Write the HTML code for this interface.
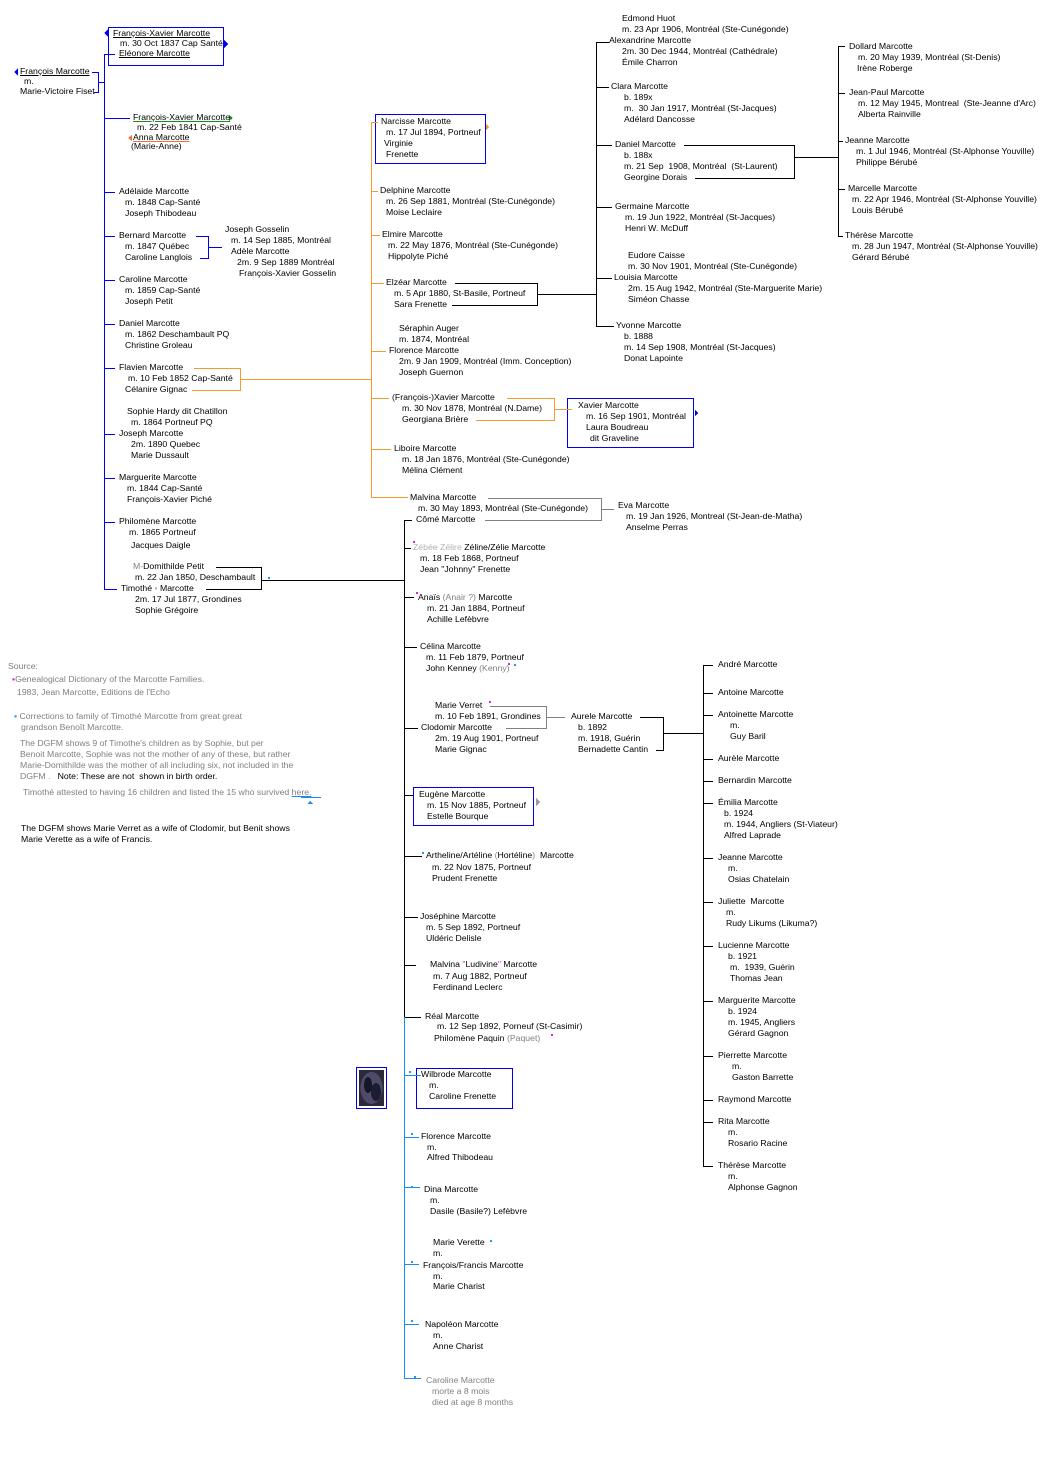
<!DOCTYPE html>
<html><head><meta charset="utf-8">
<style>
html,body{margin:0;padding:0;background:#fff}
#c{position:relative;width:1050px;height:1481px;overflow:hidden;font-family:"Liberation Sans",sans-serif;font-size:8.7px;line-height:11px;color:#000}
#c i{position:absolute;font-style:normal;white-space:nowrap}
.g{color:#808080}.lg{color:#b0b0b0}
.u{text-decoration:underline}
svg{position:absolute;left:0;top:0}
.p{color:#e020e0}.b{color:#1a9af0}
</style></head><body><div id="c">
<svg width="1050" height="1481" shape-rendering="crispEdges">
<g stroke="#0000ee" fill="none" stroke-width="1">
<rect x="108.5" y="27.5" width="115" height="38"/>
<rect x="375.5" y="114.5" width="110" height="49"/>
<rect x="567.5" y="398.5" width="126" height="49"/>
<rect x="413.5" y="787.5" width="120" height="38"/>
<rect x="416.5" y="1068.5" width="96" height="40"/>
<rect x="356.5" y="1067.5" width="30" height="41"/>
<path d="M104.5 54V590M104 54.5H115M104 118.5H130M104 192.5H115M104 236.5H115M104 280.5H115M104 324.5H115M104 368.5H115M104 434.5H115M104 478.5H115M104 522.5H115M104 589.5H117"/>
<path d="M92 72.5H98.5V92.5H94M98 82.5H104"/>
<path d="M196 236.5H208.5V258.5H200M208 247.5H222"/>
</g>
<g stroke="#f59a30" fill="none">
<path d="M371.5 122V498M371 122.5H378M371 191.5H378M371 235.5H380M371 283.5H384M371 351.5H386M371 398.5H389M371 449.5H391M371 497.5H408"/>
<path d="M194 368.5H240.5V390.5H192M240 379.5H371"/>
<path d="M507 398.5H554.5V420.5H476M554 409.5H572"/>
</g>
<g stroke="#000" fill="none">
<path d="M455 283.5H537.5V305.5H452M537 294.5H596"/>
<path d="M596.5 42V327M596 42.5H609M596 87.5H609M596 145.5H612M596 207.5H612M596 278.5H612M596 326.5H614"/>
<path d="M684 145.5H794.5V178.5H695M794 157.5H838"/>
<path d="M838.5 46V237M838 46.5H845M838 93.5H845M838 141.5H843M838 189.5H845M838 236.5H843"/>
<path d="M216 567.5H261.5V589.5H206M261 580.5H404"/>
<path d="M404.5 520V1018M404 520.5H412M404 548.5H411M404 597.5H414M404 647.5H417M404 728.5H418M404 795.5H413M404 856.5H422M404 917.5H418M404 965.5H416M404 1017.5H421"/>
<path d="M640 717.5H663.5V750.5H656M663 733.5H703"/>
<path d="M703.5 665V1167M703 665.5H713M703 693.5H713M703 715.5H713M703 759.5H713M703 781.5H713M703 803.5H713M703 858.5H713M703 902.5H713M703 946.5H713M703 1001.5H713M703 1056.5H713M703 1100.5H713M703 1122.5H713M703 1166.5H713"/>
</g>
<g stroke="#808080" fill="none">
<path d="M488 498.5H601.5V520.5H485M601 509.5H614"/>
<path d="M490 706.5H546.5V728.5H506M546 717.5H565"/>
</g>
<g stroke="#1a8cf0" fill="none">
<path d="M404.5 1017V1379M404 1075.5H421M404 1137.5H419M404 1187.5H420M404 1264.5H419M404 1324.5H419M404 1378.5H421"/>
<path d="M301 797.5H321"/>
</g>
<g stroke="none">
<path d="M108 29L104 33L108 37Z" fill="#0000ee"/>
<path d="M224 40L228 44L224 48Z" fill="#0000ee"/>
<path d="M18 68L14 72L18 76Z" fill="#0000ee"/>
<path d="M229 115L233 118L229 121Z" fill="#1a8a1a"/>
<path d="M132 135L128 138L132 141Z" fill="#f07040"/>
<path d="M486 124L489 127L486 130Z" fill="#f59a30"/>
<path d="M695 410L698 413L695 416Z" fill="#0000ee"/>
<path d="M536 798L540 802L536 806Z" fill="#999"/>
<path d="M307 804L310 801L313 804Z" fill="#1a8cf0"/>
<rect x="359" y="1070" width="25" height="36" fill="#2a2a3a"/>
<ellipse cx="371.5" cy="1088" rx="11" ry="16" fill="#504a6a"/>
<ellipse cx="368" cy="1085" rx="4" ry="8" fill="#141826"/>
<ellipse cx="376" cy="1092" rx="5" ry="9" fill="#1a1e30"/>
<g fill="#1a9af0"><rect x="409" y="1071" width="2" height="2"/><rect x="411" y="1133" width="2" height="2"/><rect x="411" y="1186" width="2" height="2"/><rect x="490" y="1240" width="2" height="2"/><rect x="411" y="1261" width="2" height="2"/><rect x="411" y="1320" width="2" height="2"/><rect x="414" y="1376" width="2" height="2"/><rect x="268" y="577" width="2" height="2"/><rect x="422" y="852" width="2" height="2"/><rect x="514" y="664" width="2" height="2"/></g>
<g fill="#e020e0"><rect x="413" y="541" width="2" height="2"/><rect x="416" y="592" width="2" height="2"/><rect x="489" y="701" width="2" height="2"/><rect x="551" y="1034" width="2" height="2"/><rect x="508" y="663" width="2" height="2"/></g>
</g>
</svg>

<i class="u" style="left:113px;top:28px">François-Xavier Marcotte</i>
<i style="left:120px;top:38px">m. 30 Oct 1837 Cap Santé</i>
<i class="u" style="left:119px;top:48px">Eléonore Marcotte</i>
<i class="u" style="left:20px;top:66px">François Marcotte</i>
<i style="left:24px;top:76px">m.</i>
<i style="left:20px;top:86px">Marie-Victoire Fiset</i>
<i style="left:133px;top:112px;text-decoration:underline;text-decoration-color:#1a8a1a">François-Xavier Marcotte</i>
<i style="left:137px;top:122px">m. 22 Feb 1841 Cap-Santé</i>
<i style="left:133px;top:132px;text-decoration:underline;text-decoration-color:#f07040">Anna Marcotte</i>
<i style="left:131px;top:141px">(Marie-Anne)</i>
<i style="left:119px;top:186px">Adélaide Marcotte</i>
<i style="left:125px;top:197px">m. 1848 Cap-Santé</i>
<i style="left:125px;top:208px">Joseph Thibodeau</i>
<i style="left:119px;top:230px">Bernard Marcotte</i>
<i style="left:125px;top:241px">m. 1847 Québec</i>
<i style="left:125px;top:252px">Caroline Langlois</i>
<i style="left:225px;top:224px">Joseph Gosselin</i>
<i style="left:231px;top:235px">m. 14 Sep 1885, Montréal</i>
<i style="left:231px;top:246px">Adèle Marcotte</i>
<i style="left:237px;top:257px">2m. 9 Sep 1889 Montréal</i>
<i style="left:239px;top:268px">François-Xavier Gosselin</i>
<i style="left:119px;top:274px">Caroline Marcotte</i>
<i style="left:125px;top:285px">m. 1859 Cap-Santé</i>
<i style="left:125px;top:296px">Joseph Petit</i>
<i style="left:119px;top:318px">Daniel Marcotte</i>
<i style="left:125px;top:329px">m. 1862 Deschambault PQ</i>
<i style="left:125px;top:340px">Christine Groleau</i>
<i style="left:119px;top:362px">Flavien Marcotte</i>
<i style="left:128px;top:373px">m. 10 Feb 1852 Cap-Santé</i>
<i style="left:125px;top:384px">Célanire Gignac</i>
<i style="left:127px;top:406px">Sophie Hardy dit Chatillon</i>
<i style="left:131px;top:417px">m. 1864 Portneuf PQ</i>
<i style="left:119px;top:428px">Joseph Marcotte</i>
<i style="left:131px;top:439px">2m. 1890 Quebec</i>
<i style="left:131px;top:450px">Marie Dussault</i>
<i style="left:119px;top:472px">Marguerite Marcotte</i>
<i style="left:127px;top:483px">m. 1844 Cap-Santé</i>
<i style="left:127px;top:494px">François-Xavier Piché</i>
<i style="left:119px;top:516px">Philomène Marcotte</i>
<i style="left:129px;top:527px">m. 1865 Portneuf</i>
<i style="left:131px;top:540px">Jacques Daigle</i>
<i style="left:133px;top:561px"><span class="g">M-</span>Domithilde Petit</i>
<i style="left:135px;top:572px">m. 22 Jan 1850, Deschambault</i>
<i style="left:121px;top:583px">Timothé <span class="lg">▪</span> Marcotte</i>
<i style="left:135px;top:594px">2m. 17 Jul 1877, Grondines</i>
<i style="left:135px;top:605px">Sophie Grégoire</i>

<i style="left:381px;top:116px">Narcisse Marcotte</i>
<i style="left:386px;top:127px">m. 17 Jul 1894, Portneuf</i>
<i style="left:384px;top:138px">Virginie</i>
<i style="left:386px;top:149px">Frenette</i>
<i style="left:380px;top:185px">Delphine Marcotte</i>
<i style="left:386px;top:196px">m. 26 Sep 1881, Montréal (Ste-Cunégonde)</i>
<i style="left:386px;top:207px">Moise Leclaire</i>
<i style="left:382px;top:229px">Elmire Marcotte</i>
<i style="left:388px;top:240px">m. 22 May 1876, Montréal (Ste-Cunégonde)</i>
<i style="left:388px;top:251px">Hippolyte Piché</i>
<i style="left:386px;top:277px">Elzéar Marcotte</i>
<i style="left:394px;top:288px">m. 5 Apr 1880, St-Basile, Portneuf</i>
<i style="left:394px;top:299px">Sara Frenette</i>
<i style="left:399px;top:323px">Séraphin Auger</i>
<i style="left:399px;top:334px">m. 1874, Montréal</i>
<i style="left:389px;top:345px">Florence Marcotte</i>
<i style="left:399px;top:356px">2m. 9 Jan 1909, Montréal (Imm. Conception)</i>
<i style="left:399px;top:367px">Joseph Guernon</i>
<i style="left:392px;top:392px">(François-)Xavier Marcotte</i>
<i style="left:402px;top:403px">m. 30 Nov 1878, Montréal (N.Dame)</i>
<i style="left:402px;top:414px">Georgiana Brière</i>
<i style="left:578px;top:400px">Xavier Marcotte</i>
<i style="left:586px;top:411px">m. 16 Sep 1901, Montréal</i>
<i style="left:586px;top:422px">Laura Boudreau</i>
<i style="left:590px;top:433px">dit Graveline</i>
<i style="left:394px;top:443px">Liboire Marcotte</i>
<i style="left:402px;top:454px">m. 18 Jan 1876, Montréal (Ste-Cunégonde)</i>
<i style="left:402px;top:465px">Mélina Clément</i>
<i style="left:410px;top:492px">Malvina Marcotte</i>
<i style="left:418px;top:503px">m. 30 May 1893, Montréal (Ste-Cunégonde)</i>
<i style="left:416px;top:514px">Cômé Marcotte</i>
<i style="left:618px;top:500px">Eva Marcotte</i>
<i style="left:626px;top:511px">m. 19 Jan 1926, Montreal (St-Jean-de-Matha)</i>
<i style="left:626px;top:522px">Anselme Perras</i>

<i style="left:622px;top:13px">Edmond Huot</i>
<i style="left:622px;top:24px">m. 23 Apr 1906, Montréal (Ste-Cunégonde)</i>
<i style="left:609px;top:35px">Alexandrine Marcotte</i>
<i style="left:622px;top:46px">2m. 30 Dec 1944, Montréal (Cathédrale)</i>
<i style="left:622px;top:57px">Émile Charron</i>
<i style="left:611px;top:81px">Clara Marcotte</i>
<i style="left:624px;top:92px">b. 189x</i>
<i style="left:624px;top:103px">m.&nbsp; 30 Jan 1917, Montréal (St-Jacques)</i>
<i style="left:624px;top:114px">Adélard Dancosse</i>
<i style="left:615px;top:139px">Daniel Marcotte</i>
<i style="left:624px;top:150px">b. 188x</i>
<i style="left:624px;top:161px">m. 21 Sep&nbsp; 1908, Montréal&nbsp; (St-Laurent)</i>
<i style="left:624px;top:172px">Georgine Dorais</i>
<i style="left:615px;top:201px">Germaine Marcotte</i>
<i style="left:625px;top:212px">m. 19 Jun 1922, Montréal (St-Jacques)</i>
<i style="left:625px;top:223px">Henri W. McDuff</i>
<i style="left:628px;top:250px">Eudore Caisse</i>
<i style="left:628px;top:261px">m. 30 Nov 1901, Montréal (Ste-Cunégonde)</i>
<i style="left:614px;top:272px">Louisia Marcotte</i>
<i style="left:628px;top:283px">2m. 15 Aug 1942, Montréal (Ste-Marguerite Marie)</i>
<i style="left:628px;top:294px">Siméon Chasse</i>
<i style="left:616px;top:320px">Yvonne Marcotte</i>
<i style="left:624px;top:331px">b. 1888</i>
<i style="left:624px;top:342px">m. 14 Sep 1908, Montréal (St-Jacques)</i>
<i style="left:624px;top:353px">Donat Lapointe</i>

<i style="left:849px;top:41px">Dollard Marcotte</i>
<i style="left:858px;top:52px">m. 20 May 1939, Montréal (St-Denis)</i>
<i style="left:857px;top:63px">Irène Roberge</i>
<i style="left:849px;top:87px">Jean-Paul Marcotte</i>
<i style="left:858px;top:98px">m. 12 May 1945, Montreal&nbsp; (Ste-Jeanne d'Arc)</i>
<i style="left:858px;top:109px">Alberta Rainville</i>
<i style="left:845px;top:135px">Jeanne Marcotte</i>
<i style="left:856px;top:146px">m. 1 Jul 1946, Montréal (St-Alphonse Youville)</i>
<i style="left:856px;top:157px">Philippe Bérubé</i>
<i style="left:848px;top:183px">Marcelle Marcotte</i>
<i style="left:852px;top:194px">m. 22 Apr 1946, Montréal (St-Alphonse Youville)</i>
<i style="left:852px;top:205px">Louis Bérubé</i>
<i style="left:845px;top:230px">Thérèse Marcotte</i>
<i style="left:852px;top:241px">m. 28 Jun 1947, Montréal (St-Alphonse Youville)</i>
<i style="left:852px;top:252px">Gérard Bérubé</i>

<i style="left:413px;top:542px"><span class="lg">Zébée Zélire</span> Zéline/Zélie Marcotte</i>
<i style="left:420px;top:553px">m. 18 Feb 1868, Portneuf</i>
<i style="left:420px;top:564px">Jean "Johnny" Frenette</i>
<i style="left:418px;top:592px">Anaïs <span class="g">(Anair ?)</span> Marcotte</i>
<i style="left:427px;top:603px">m. 21 Jan 1884, Portneuf</i>
<i style="left:427px;top:614px">Achille Lefèbvre</i>
<i style="left:420px;top:641px">Célina Marcotte</i>
<i style="left:426px;top:652px">m. 11 Feb 1879, Portneuf</i>
<i style="left:426px;top:663px">John Kenney <span class="g">(Kenny)</span></i>
<i style="left:435px;top:700px">Marie Verret</i>
<i style="left:435px;top:711px">m. 10 Feb 1891, Grondines</i>
<i style="left:421px;top:722px">Clodomir Marcotte</i>
<i style="left:435px;top:733px">2m. 19 Aug 1901, Portneuf</i>
<i style="left:435px;top:744px">Marie Gignac</i>
<i style="left:571px;top:711px">Aurele Marcotte</i>
<i style="left:578px;top:722px">b. 1892</i>
<i style="left:578px;top:733px">m. 1918, Guérin</i>
<i style="left:578px;top:744px">Bernadette Cantin</i>
<i style="left:419px;top:789px">Eugène Marcotte</i>
<i style="left:427px;top:800px">m. 15 Nov 1885, Portneuf</i>
<i style="left:427px;top:811px">Estelle Bourque</i>
<i style="left:426px;top:850px">Artheline/Artéline <span class="g">(</span>Hortéline<span class="g">)</span>&nbsp; Marcotte</i>
<i style="left:432px;top:862px">m. 22 Nov 1875, Portneuf</i>
<i style="left:432px;top:873px">Prudent Frenette</i>
<i style="left:420px;top:911px">Joséphine Marcotte</i>
<i style="left:426px;top:922px">m. 5 Sep 1892, Portneuf</i>
<i style="left:426px;top:933px">Uldéric Delisle</i>
<i style="left:430px;top:959px">Malvina <span class="p">"</span>Ludivine<span class="p">"</span> Marcotte</i>
<i style="left:433px;top:971px">m. 7 Aug 1882, Portneuf</i>
<i style="left:433px;top:982px">Ferdinand Leclerc</i>
<i style="left:425px;top:1011px">Réal Marcotte</i>
<i style="left:437px;top:1021px">m. 12 Sep 1892, Porneuf (St-Casimir)</i>
<i style="left:434px;top:1033px">Philomène Paquin <span class="g">(Paquet)</span></i>
<i style="left:421px;top:1069px">Wilbrode Marcotte</i>
<i style="left:429px;top:1080px">m.</i>
<i style="left:429px;top:1091px">Caroline Frenette</i>
<i style="left:421px;top:1131px">Florence Marcotte</i>
<i style="left:427px;top:1142px">m.</i>
<i style="left:427px;top:1152px">Alfred Thibodeau</i>
<i style="left:424px;top:1184px">Dina Marcotte</i>
<i style="left:430px;top:1195px">m.</i>
<i style="left:430px;top:1206px">Dasile (Basile?) Lefèbvre</i>
<i style="left:433px;top:1237px">Marie Verette</i>
<i style="left:433px;top:1248px">m.</i>
<i style="left:423px;top:1260px">François/Francis Marcotte</i>
<i style="left:433px;top:1271px">m.</i>
<i style="left:433px;top:1281px">Marie Charist</i>
<i style="left:425px;top:1319px">Napoléon Marcotte</i>
<i style="left:433px;top:1330px">m.</i>
<i style="left:433px;top:1341px">Anne Charist</i>
<i class="g" style="left:426px;top:1375px">Caroline Marcotte</i>
<i class="g" style="left:432px;top:1386px">morte a 8 mois</i>
<i class="g" style="left:432px;top:1397px">died at age 8 months</i>

<i style="left:718px;top:659px">André Marcotte</i>
<i style="left:718px;top:687px">Antoine Marcotte</i>
<i style="left:718px;top:709px">Antoinette Marcotte</i>
<i style="left:730px;top:720px">m.</i>
<i style="left:730px;top:731px">Guy Baril</i>
<i style="left:718px;top:753px">Aurèle Marcotte</i>
<i style="left:718px;top:775px">Bernardin Marcotte</i>
<i style="left:718px;top:797px">Émilia Marcotte</i>
<i style="left:724px;top:808px">b. 1924</i>
<i style="left:724px;top:819px">m. 1944, Angliers (St-Viateur)</i>
<i style="left:724px;top:830px">Alfred Laprade</i>
<i style="left:718px;top:852px">Jeanne Marcotte</i>
<i style="left:728px;top:863px">m.</i>
<i style="left:728px;top:874px">Osias Chatelain</i>
<i style="left:718px;top:896px">Juliette&nbsp; Marcotte</i>
<i style="left:726px;top:907px">m.</i>
<i style="left:726px;top:918px">Rudy Likums (Likuma?)</i>
<i style="left:718px;top:940px">Lucienne Marcotte</i>
<i style="left:728px;top:951px">b. 1921</i>
<i style="left:730px;top:962px">m.&nbsp; 1939, Guérin</i>
<i style="left:730px;top:973px">Thomas Jean</i>
<i style="left:718px;top:995px">Marguerite Marcotte</i>
<i style="left:728px;top:1006px">b. 1924</i>
<i style="left:728px;top:1017px">m. 1945, Angliers</i>
<i style="left:728px;top:1028px">Gérard Gagnon</i>
<i style="left:718px;top:1050px">Pierrette Marcotte</i>
<i style="left:732px;top:1061px">m.</i>
<i style="left:732px;top:1072px">Gaston Barrette</i>
<i style="left:718px;top:1094px">Raymond Marcotte</i>
<i style="left:718px;top:1116px">Rita Marcotte</i>
<i style="left:728px;top:1127px">m.</i>
<i style="left:728px;top:1138px">Rosario Racine</i>
<i style="left:718px;top:1160px">Thérèse Marcotte</i>
<i style="left:728px;top:1171px">m.</i>
<i style="left:728px;top:1182px">Alphonse Gagnon</i>

<i class="g" style="left:8px;top:661px">Source:</i>
<i class="g" style="left:12px;top:674px"><span class="p">▪</span>Genealogical Dictionary of the Marcotte Families.</i>
<i class="g" style="left:17px;top:687px">1983, Jean Marcotte, Editions de l'Echo</i>
<i class="g" style="left:14px;top:711px"><span class="b">▪</span> Corrections to family of Timothé Marcotte from great great</i>
<i class="g" style="left:21px;top:722px">grandson Benoît Marcotte.</i>
<i class="g" style="left:20px;top:738px">The DGFM shows 9 of Timothe's children as by Sophie, but per</i>
<i class="g" style="left:20px;top:749px">Benoit Marcotte, Sophie was not the mother of any of these, but rather</i>
<i class="g" style="left:20px;top:760px">Marie-Domithilde was the mother of all including six, not included in the</i>
<i class="g" style="left:20px;top:771px">DGFM .&nbsp;&nbsp; <span style="color:#000">Note: These are not&nbsp; shown in birth order.</span></i>
<i class="g" style="left:23px;top:787px">Timothé attested to having 16 children and listed the 15 who survived <span class="u" style="text-decoration-color:#1a8cf0">here.</span></i>
<i style="left:21px;top:823px">The DGFM shows Marie Verret as a wife of Clodomir, but Benit shows</i>
<i style="left:21px;top:834px">Marie Verette as a wife of Francis.</i>
</div></body></html>
